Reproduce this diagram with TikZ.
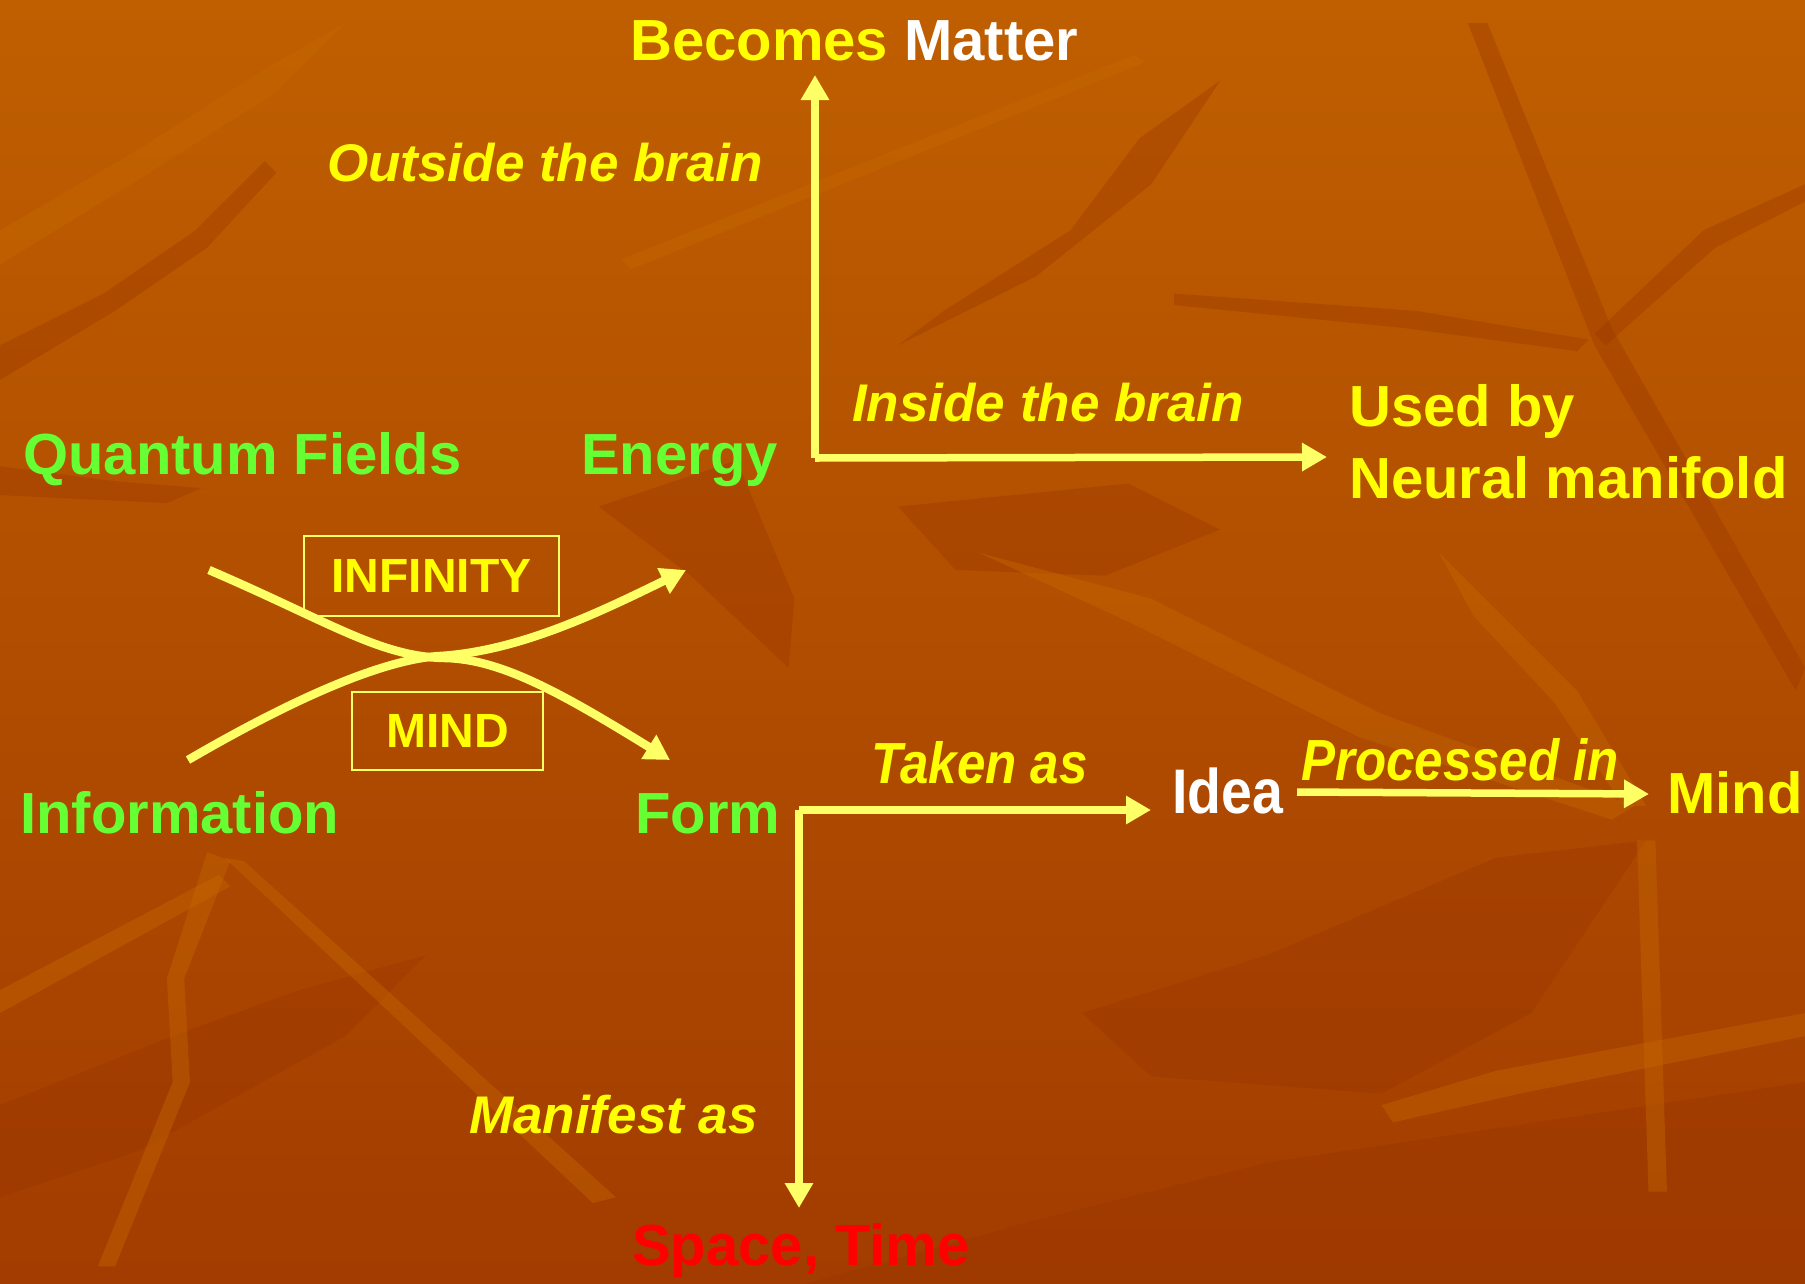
\documentclass[tikz,border=0pt]{standalone}
\usepackage{fontspec}
\setmainfont{Liberation Sans}
\newfontfamily\narrowfont[FakeStretch=0.88]{Liberation Sans}
\usetikzlibrary{arrows.meta}
\definecolor{bgtop}{HTML}{BF5F00}
\definecolor{bgbot}{HTML}{A23C00}
\definecolor{txtyellow}{HTML}{FFFF00}
\definecolor{lineyellow}{HTML}{FFFF66}
\definecolor{txtgreen}{HTML}{66FF33}
\definecolor{txtred}{HTML}{FF0000}
\definecolor{leafdark}{HTML}{983400}
\definecolor{leaflight}{HTML}{C66800}
\begin{document}
\begin{tikzpicture}[x=1pt,y=-1pt,
  lbl/.style={font=\fontsize{58}{60}\selectfont\bfseries, inner sep=0pt, anchor=base west},
  ital/.style={font=\fontsize{53}{55}\selectfont\bfseries\itshape, text=txtyellow, inner sep=0pt, anchor=base west},
  narrowital/.style={font=\narrowfont\fontsize{58}{60}\selectfont\bfseries\itshape, text=txtyellow, inner sep=0pt, anchor=base west},
  framebox/.style={draw=lineyellow, line width=2pt, font=\fontsize{48}{50}\selectfont\bfseries, text=txtyellow, inner sep=0pt},
  arr/.style={draw=lineyellow, line width=7.5pt, -{Triangle[length=25pt,width=27pt]}},
  curvearr/.style={draw=lineyellow, line width=8.5pt, -{Triangle[length=25pt,width=27pt]}},
  dleaf/.style={fill=leafdark, opacity=0.35},
  lleaf/.style={fill=leaflight, opacity=0.4}
]
% background
\fill[top color=bgtop, bottom color=bgbot] (0,0) rectangle (1805,1283);
\useasboundingbox (0,0) rectangle (1805,1283);
\begin{scope}[scale=1.1512]
  % dark leaf regions
  \path[dleaf] (0,405) -- (100,418) -- (175,424) -- (145,437) -- (60,433) -- (0,430) -- cycle;
  \path[dleaf] (0,300) -- (90,255) -- (170,200) -- (230,140) -- (240,150) -- (180,215) -- (100,270) -- (0,330) -- cycle;
  \path[dleaf] (1275,20) -- (1292,20) -- (1400,285) -- (1568,580) -- (1560,600) -- (1385,300) -- cycle;
  \path[dleaf] (1385,290) -- (1480,200) -- (1568,160) -- (1568,175) -- (1490,215) -- (1395,300) -- cycle;
  \path[dleaf] (1020,255) -- (1230,270) -- (1380,295) -- (1370,305) -- (1220,285) -- (1020,265) -- cycle;
  \path[dleaf] (940,880) -- (1100,830) -- (1300,745) -- (1430,730) -- (1330,880) -- (1200,950) -- (1000,935) -- cycle;
  \path[dleaf] (780,300) -- (900,240) -- (1000,160) -- (1060,70) -- (990,120) -- (930,200) -- (820,270) -- cycle;
  \path[dleaf] (520,440) -- (640,400) -- (690,520) -- (685,580) -- (600,500) -- cycle;
  \path[dleaf] (0,960) -- (150,900) -- (260,860) -- (370,830) -- (300,900) -- (120,1000) -- (0,1040) -- cycle;
  \path[dleaf] (700,1115) -- (900,1060) -- (1100,1010) -- (1300,980) -- (1568,940) -- (1568,1115) -- cycle;
  \path[dleaf] (780,440) -- (980,420) -- (1060,460) -- (960,500) -- (830,495) -- cycle;
  % light streaks
  \path[lleaf] (180,740) -- (200,748) -- (160,850) -- (165,940) -- (100,1100) -- (85,1100) -- (150,940) -- (145,850) -- cycle;
  \path[lleaf] (195,745) -- (212,748) -- (535,1040) -- (515,1045) -- cycle;
  \path[lleaf] (1422,730) -- (1438,730) -- (1448,1035) -- (1432,1035) -- cycle;
  \path[lleaf] (540,225) -- (985,48) -- (995,54) -- (548,234) -- cycle;
  \path[lleaf] (1250,480) -- (1300,530) -- (1370,600) -- (1430,700) -- (1410,700) -- (1350,610) -- (1280,535) -- cycle;
  \path[lleaf] (850,480) -- (1000,520) -- (1200,620) -- (1420,700) -- (1400,712) -- (1180,640) -- (980,540) -- cycle;
  \path[lleaf] (0,860) -- (190,760) -- (200,770) -- (0,880) -- cycle;
  \path[lleaf] (1200,960) -- (1300,930) -- (1568,880) -- (1568,900) -- (1320,950) -- (1210,975) -- cycle;
  \path[lleaf] (0,200) -- (120,130) -- (230,60) -- (300,20) -- (240,80) -- (130,150) -- (0,230) -- cycle;
\end{scope}

% text nodes
\node[lbl, text=white] (bm) at (630,60) {\textcolor{txtyellow}{Becomes} Matter};
\node[ital] (outside) at (327,181) {Outside the brain};
\node[ital] (inside) at (852,421) {Inside the brain};
\node[lbl, text=txtgreen] (qf) at (23,474) {Quantum Fields};
\node[lbl, text=txtgreen] (energy) at (581,474) {Energy};
\node[lbl, text=txtyellow] (usedby) at (1349,426) {Used by};
\node[lbl, text=txtyellow] (neural) at (1349,498) {Neural manifold};
\node[framebox, minimum width=255pt, minimum height=80pt] (infinity) at (431.5,576) {INFINITY};
\node[framebox, minimum width=191pt, minimum height=78pt] (mindbox) at (447.5,731) {MIND};
\node[lbl, text=txtgreen] (info) at (20,833) {Information};
\node[lbl, text=txtgreen] (form) at (635,833) {Form};
\node[narrowital] (taken) at (871,783) {Taken as};
\node[inner sep=0pt, anchor=base west, text=white, font=\narrowfont\fontsize{63}{65}\selectfont\bfseries] (idea) at (1172,813) {Idea};
\node[narrowital] (processed) at (1301,780) {Processed in};
\node[lbl, text=txtyellow] (mind) at (1667,813) {Mind};
\node[ital] (manifest) at (469,1133) {Manifest as};
\node[lbl, text=txtred] (spacetime) at (632,1265) {Space, Time};

% connector coordinates
\coordinate (c1) at (815,458);
\coordinate (c1up) at (815,75);
\coordinate (c1right) at (1327,457);
\coordinate (c2) at (799,810);
\coordinate (c2down) at (799,1208);
\coordinate (c2right) at (1151,810);
\coordinate (p1) at (1297,792);
\coordinate (p2) at (1649,794);
\coordinate (k1s) at (209,570);
\coordinate (k1m) at (445,658);
\coordinate (k1e) at (670,760);
\coordinate (k2s) at (188,760);
\coordinate (k2m) at (440,656);
\coordinate (k2e) at (686,570);

% connectors
\draw[arr] (c1) -- (c1up);
\draw[arr] (c1) -- (c1right);
\draw[arr] (c2) -- (c2down);
\draw[arr] (c2) -- (c2right);
\draw[arr] (p1) -- (p2);
\draw[curvearr] (k1s) .. controls (330,622) and (380,657) .. (k1m) .. controls (500,659) and (560,692) .. (k1e);
\draw[curvearr] (k2s) .. controls (260,718) and (370,660) .. (k2m) .. controls (520,651) and (600,612) .. (k2e);
\end{tikzpicture}
\end{document}
